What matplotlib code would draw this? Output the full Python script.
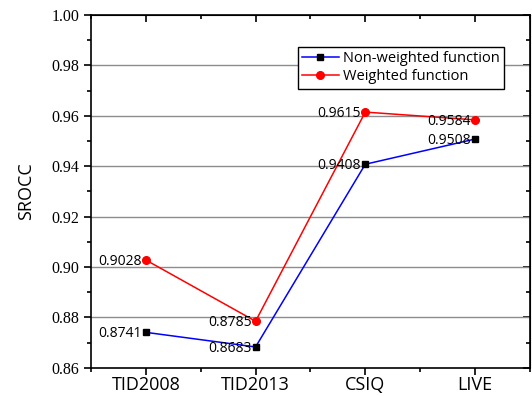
import matplotlib
matplotlib.use("Agg")
import matplotlib.pyplot as plt
from matplotlib.ticker import MultipleLocator, FixedLocator
import numpy as np

datasets = ["TID2008", "TID2013", "CSIQ", "LIVE"]
non_weighted = [0.8741, 0.8683, 0.9408, 0.9508]
weighted = [0.9028, 0.8785, 0.9615, 0.9584]
yticks = [0.86, 0.88, 0.90, 0.92, 0.94, 0.96, 0.98, 1.00]

plt.rcParams['font.family'] = ['Open Sans', 'DejaVu Sans']

fig = plt.figure(figsize=(5.32, 3.96), dpi=100)
ax = fig.add_axes([0.171, 0.071, 0.825, 0.891])

x = np.arange(len(datasets))
ax.plot(x, non_weighted, color="#0000ff", lw=1.1, marker="s", ms=5,
        mfc="black", mec="black", label="Non-weighted function", zorder=3)
ax.plot(x, weighted, color="#ff0000", lw=1.1, marker="o", ms=5.5,
        mfc="#ff0000", mec="#ff0000", label="Weighted function", zorder=3)

for xi, v in zip(x, non_weighted):
    ax.annotate("%.4f" % v, (xi, v), xytext=(-3, -1), textcoords="offset points",
                ha="right", va="center", fontsize=10)
for xi, v in zip(x, weighted):
    ax.annotate("%.4f" % v, (xi, v), xytext=(-3, -1), textcoords="offset points",
                ha="right", va="center", fontsize=10)

ax.set_xlim(-0.5, 3.5)
ax.set_ylim(0.86, 1.00)
ax.set_xticks(x)
ax.set_xticklabels(datasets, fontsize=13)
ax.xaxis.set_minor_locator(FixedLocator([-0.5, 0.5, 1.5, 2.5, 3.5]))
ax.set_yticks(yticks)
ax.set_yticklabels(["%.2f" % t for t in yticks], fontsize=11.5, family="Liberation Serif")
ax.yaxis.set_minor_locator(MultipleLocator(0.01))
ax.set_ylabel("SROCC", fontsize=13, labelpad=12)

for yv in yticks[1:-1]:
    ax.axhline(yv, color="#8c8c8c", lw=1, zorder=1)

# bottom/left ticks point out
ax.tick_params(which="both", width=1.2, direction="out")
ax.tick_params(which="major", length=5)
ax.tick_params(which="minor", length=3)
ax.tick_params(axis="x", which="major", pad=1)
for s in ax.spines.values():
    s.set_linewidth(1.2)

# top/right ticks point in
top = ax.secondary_xaxis("top")
top.set_xticks(x)
top.xaxis.set_minor_locator(FixedLocator([-0.5, 0.5, 1.5, 2.5, 3.5]))
top.tick_params(which="both", direction="in", width=1.2, labeltop=False)
top.tick_params(which="major", length=5)
top.tick_params(which="minor", length=3)
right = ax.secondary_yaxis("right")
right.set_yticks(yticks)
right.yaxis.set_minor_locator(MultipleLocator(0.01))
right.tick_params(which="both", direction="in", width=1.2, labelright=False)
right.tick_params(which="major", length=5)
right.tick_params(which="minor", length=3)

leg = ax.legend(loc="upper right", bbox_to_anchor=(0.958, 0.93), fontsize=10.5,
                frameon=True, fancybox=False, edgecolor="black", framealpha=1,
                handlelength=2.5, borderpad=0.3, labelspacing=0.2, handletextpad=0.3)
leg.get_frame().set_linewidth(1)

fig.savefig("out.png", dpi=100)
